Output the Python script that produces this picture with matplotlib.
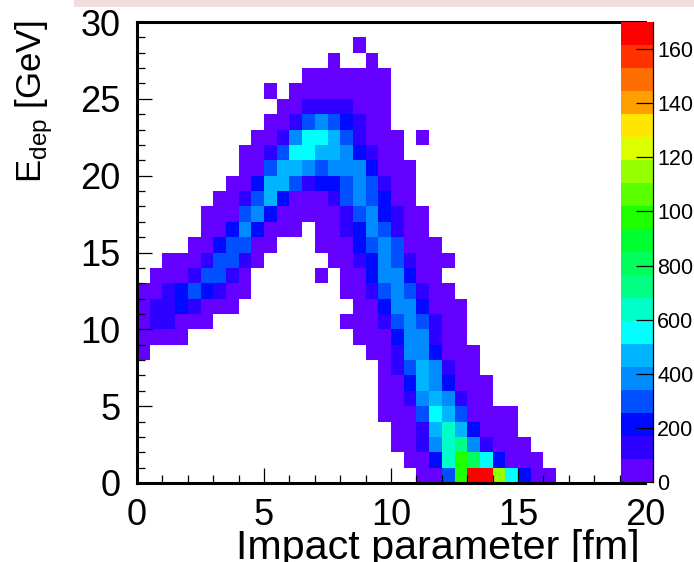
"""E_dep vs impact parameter, 2D histogram with the stepped rainbow palette."""
import numpy as np
import matplotlib
matplotlib.use("Agg")
import matplotlib.pyplot as plt
from matplotlib.colors import ListedColormap, BoundaryNorm
from matplotlib.patches import Rectangle
from matplotlib.ticker import MultipleLocator

plt.rcParams["font.family"] = ["Liberation Sans", "DejaVu Sans"]
plt.rcParams["mathtext.fontset"] = "custom"
plt.rcParams["mathtext.rm"] = "Liberation Sans"

W, H = 694, 562
NX, NY = 40, 30
x_edges = np.linspace(0, 20, NX + 1)
y_edges = np.linspace(0, 30, NY + 1)

# one entry per E_dep bin (row 0 at the bottom): first filled column, then counts (0 = empty)
row_start = [22, 21, 20, 20, 19, 19, 19, 19, 0, 0, 0, 0, 0, 1, 2,
             4, 5, 5, 6, 7, 8, 8, 9, 10, 11, 10, 13, 15, 17]
row_counts = [
    [40, 40, 300, 980, 1660, 1660, 1150, 550, 210, 40, 40],
    [40, 40, 210, 640, 980, 810, 550, 210, 40, 40, 40],
    [40, 40, 130, 380, 640, 720, 380, 130, 40, 40, 40],
    [40, 40, 130, 470, 640, 470, 210, 40, 40, 40],
    [40, 40, 40, 300, 550, 470, 300, 40, 40, 40, 40],
    [40, 40, 130, 380, 470, 380, 130, 40, 40],
    [40, 40, 210, 470, 380, 210, 40, 40, 40],
    [40, 130, 300, 470, 380, 130, 40, 40],
    [40, 0, 0, 0, 0, 0, 0, 0, 0, 0, 0, 0, 0, 0, 0, 0, 0, 0, 40, 40, 130, 380, 380, 210, 40, 40, 40],
    [40, 40, 40, 40, 0, 0, 0, 0, 0, 0, 0, 0, 0, 0, 0, 0, 0, 40, 40, 40, 210, 380, 380, 130, 40, 40],
    [40, 130, 130, 40, 40, 40, 0, 0, 0, 0, 0, 0, 0, 0, 0, 0, 40, 40, 40, 130, 300, 380, 300, 130, 40, 40],
    [40, 130, 130, 210, 130, 40, 40, 40, 0, 0, 0, 0, 0, 0, 0, 0, 0, 40, 40, 210, 380, 380, 210, 40, 40, 40],
    [40, 40, 130, 210, 300, 210, 130, 40, 40, 0, 0, 0, 0, 0, 0, 0, 40, 40, 130, 300, 380, 300, 130, 40, 40],
    [40, 40, 40, 130, 300, 300, 130, 40, 0, 0, 0, 0, 0, 40, 0, 40, 40, 210, 380, 380, 210, 40, 40],
    [40, 40, 40, 130, 300, 300, 130, 40, 0, 0, 0, 0, 0, 40, 40, 130, 210, 380, 300, 130, 40, 40, 40],
    [40, 40, 210, 300, 300, 40, 40, 0, 0, 0, 40, 40, 40, 210, 300, 380, 300, 40, 40, 40],
    [40, 40, 210, 380, 210, 40, 40, 40, 0, 40, 40, 130, 210, 380, 300, 130, 40, 40],
    [40, 40, 40, 300, 380, 210, 40, 40, 40, 40, 40, 130, 300, 380, 210, 130, 40, 40],
    [40, 40, 130, 300, 470, 210, 40, 40, 40, 130, 300, 380, 300, 210, 40, 40],
    [40, 40, 210, 470, 470, 300, 130, 210, 210, 300, 380, 300, 130, 40, 40],
    [40, 40, 300, 470, 470, 380, 300, 380, 380, 380, 210, 40, 40, 40],
    [40, 40, 130, 300, 550, 550, 470, 470, 380, 210, 130, 40, 40],
    [40, 40, 130, 380, 550, 550, 470, 300, 130, 40, 40, 40, 0, 40],
    [40, 40, 130, 300, 380, 300, 210, 130, 40, 40],
    [40, 40, 130, 130, 130, 130, 40, 40, 40],
    [40, 0, 40, 40, 40, 40, 40, 40, 40, 40],
    [40, 40, 40, 40, 40, 40, 40],
    [40, 0, 0, 40],
    [40],
]

level_colors = ["#6400ff", "#2d00ff", "#000aff", "#0050ff", "#008cff",
                "#00b4ff", "#00ffff", "#00ffc8", "#00ff82", "#00ff5a",
                "#00ff32", "#1eff00", "#5aff00", "#96ff00", "#dcff00",
                "#ffe600", "#ffa000", "#ff6e00", "#ff3200", "#ff0000"]
level_edges = [0, 85, 170, 255, 340, 425, 510, 595, 680, 765, 850,
               935, 1020, 1105, 1190, 1275, 1360, 1445, 1530, 1615, 1700]
cbar_ticks = [0, 200, 400, 600, 800, 1000, 1200, 1400, 1600]
cbar_labels = ["0", "200", "400", "600", "800", "100", "120", "140", "160"]

grid = np.zeros((NY, NX))
for r, (start, vals) in enumerate(zip(row_start, row_counts)):
    grid[r, start:start + len(vals)] = vals

cmap = ListedColormap(level_colors)
norm = BoundaryNorm(level_edges, cmap.N)

fig = plt.figure(figsize=(W / 100, H / 100), dpi=100)
fig.patches.append(Rectangle((74 / W, 1 - 7 / H), 1 - 74 / W, 7 / H, transform=fig.transFigure,
                             facecolor="#f3dcdc", edgecolor="none"))

ax = fig.add_axes([137 / W, 1 - 483 / H, 508 / W, 461 / H])
mesh = ax.pcolormesh(x_edges, y_edges, np.ma.masked_equal(grid, 0), cmap=cmap, norm=norm)
ax.set_xlim(0, 20); ax.set_ylim(0, 30)
ax.spines["right"].set_visible(False)
for side in ("left", "top", "bottom"):
    ax.spines[side].set_linewidth(2.2)
ax.xaxis.set_major_locator(MultipleLocator(5)); ax.xaxis.set_minor_locator(MultipleLocator(1))
ax.yaxis.set_major_locator(MultipleLocator(5)); ax.yaxis.set_minor_locator(MultipleLocator(1))
ax.tick_params(which="major", direction="in", length=10.5, width=0.9, labelsize=26)
ax.tick_params(which="minor", direction="in", length=5.5, width=0.9)
ax.tick_params(axis="x", which="major", pad=10.5)
ax.tick_params(axis="y", which="major", pad=12)

cax = fig.add_axes([621 / W, 1 - 482 / H, 32 / W, 460 / H])
cbar = fig.colorbar(mesh, cax=cax, boundaries=level_edges, spacing="proportional", ticks=cbar_ticks)
cbar.ax.set_yticklabels(cbar_labels)
cbar.outline.set_visible(False)
cax.spines["right"].set_visible(True)
cax.spines["right"].set_linewidth(0.9)
cax.tick_params(which="major", direction="in", length=12, width=0.9, labelsize=15.5, pad=3)
cax.minorticks_off()

fig.text(640 / W, 1 - 559 / H, "Impact parameter [fm]", ha="right", va="baseline", fontsize=29.7)
fig.text(34 / W, 1 - 20 / H, r"E$_{\mathrm{dep}}$ [GeV]", rotation=90, ha="center", va="top", fontsize=25)

fig.savefig("out.png", dpi=100)
